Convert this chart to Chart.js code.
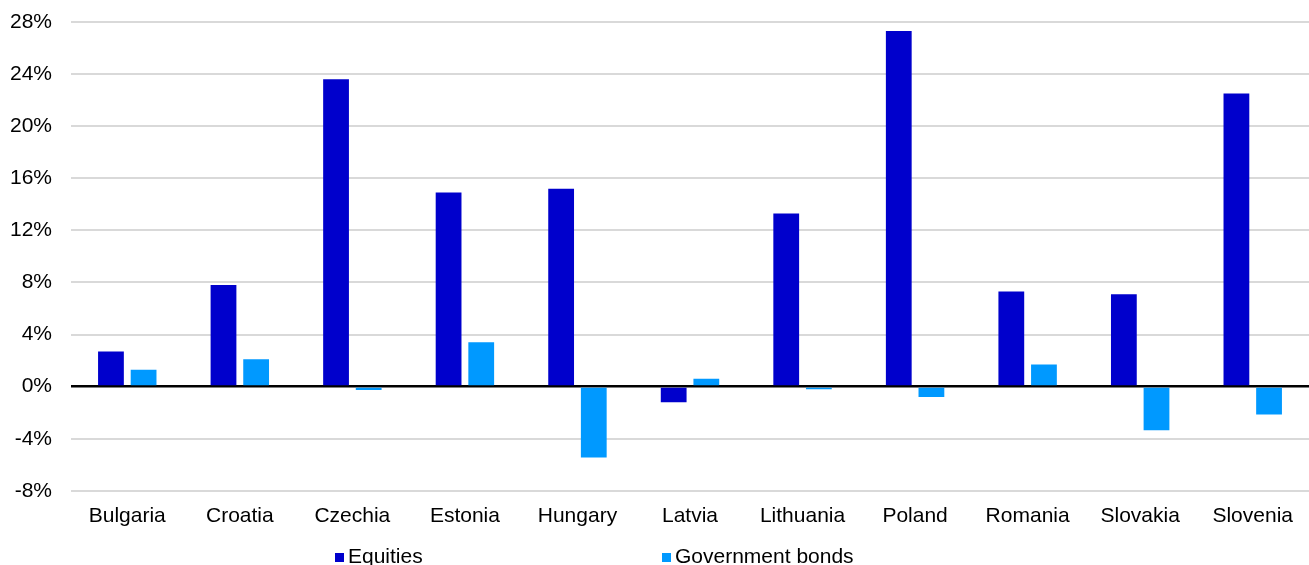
<!DOCTYPE html>
<html>
<head>
<meta charset="utf-8">
<script src="https://cdn.jsdelivr.net/npm/chart.js@4"></script>
<style>
    body { margin:0; background:#fff; }
    #wrap { position:relative; width:1309px; height:565px; overflow:hidden; }
    .leg { position:absolute; top:544px; font:21px "Liberation Sans", Arial, sans-serif; color:#000; white-space:nowrap; }
    .leg i { display:inline-block; width:9px; height:9px; margin-right:4px; vertical-align:1px; }
</style>
</head>
<body>
<div id="wrap">
    <canvas id="chart" width="1309" height="565"></canvas>
    <div class="leg" style="left:335px"><i style="background:#0000cc"></i>Equities</div>
    <div class="leg" style="left:662px"><i style="background:#0099ff"></i>Government bonds</div>
</div>
<script>
const countries = ["Bulgaria","Croatia","Czechia","Estonia","Hungary","Latvia","Lithuania","Poland","Romania","Slovakia","Slovenia"];
const equities = [2.7, 7.8, 23.6, 14.9, 15.2, -1.2, 13.3, 27.3, 7.3, 7.1, 22.5];
const bonds = [1.3, 2.1, -0.25, 3.4, -5.45, 0.6, -0.2, -0.8, 1.7, -3.35, -2.15];
const yMin = -8;
const yMax = 28;
const yStep = 4;

const font = { family:"'Liberation Sans', Arial, sans-serif", size:21 };

new Chart(document.getElementById("chart"), {
    type:"bar",
    data:{
        labels:countries,
        datasets:[
            { label:"Equities", data:equities, backgroundColor:"#0000cc" },
            { label:"Government bonds", data:bonds, backgroundColor:"#0099ff" }
        ]
    },
    options:{
        responsive:false,
        animation:false,
        categoryPercentage:0.58,
        barPercentage:0.79,
        layout:{ padding:{ top:22, left:10, right:0, bottom:31 } },
        plugins:{ legend:{ display:false }, tooltip:{ enabled:false } },
        scales:{
            x:{
                grid:{ display:false },
                border:{ display:false },
                ticks:{ color:"#000", font:font, padding:5, maxRotation:0, autoSkip:false }
            },
            y:{
                min:yMin,
                max:yMax,
                border:{ display:false },
                afterFit:s => { s.width = 61; s.paddingTop = 0; s.paddingBottom = 0; },
                grid:{
                    drawTicks:false,
                    color:c => c.tick.value === 0 ? "#000" : "#d9d9d9",
                    lineWidth:c => c.tick.value === 0 ? 2.5 : 2
                },
                ticks:{
                    stepSize:yStep,
                    color:"#000",
                    font:font,
                    padding:19,
                    callback:v => v + "%"
                }
            }
        }
    }
});
</script>
</body>
</html>
